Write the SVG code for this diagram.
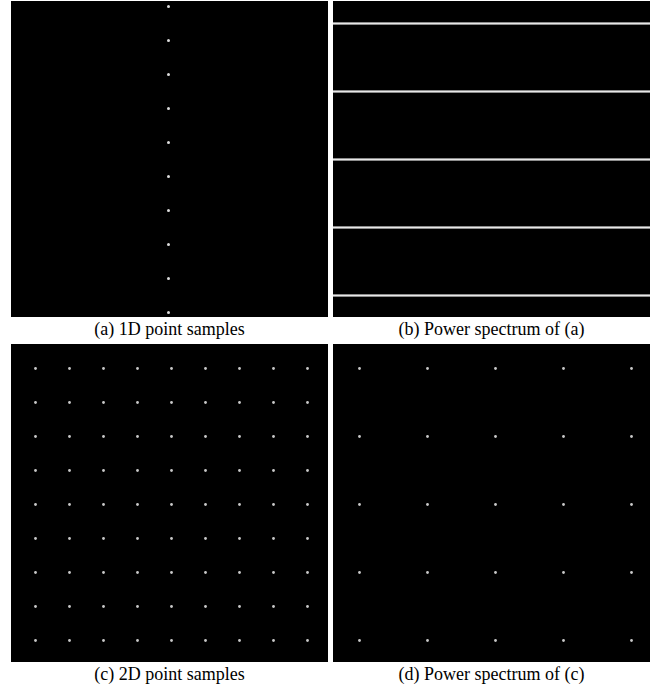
<svg xmlns="http://www.w3.org/2000/svg" width="653" height="690" viewBox="0 0 653 690">
  <defs>
    <style>
      .panel { fill: #000000; }
      .dot { fill: #dcdcdc; }
      .dotd { fill: #c8c8c8; }
      .lineo { fill: #8c8c8c; }
      .linei { fill: #e8e8e8; }
      .cap { font-family: "Liberation Serif", "Times New Roman", serif; font-size: 18px; fill: #000000; text-anchor: middle; }
    </style>
    <circle id="d" r="1.5" class="dot"/>
    <circle id="d2" r="1.4" class="dotd"/>
    <g id="hl">
      <rect x="333" y="0" width="317" height="3" class="lineo"/>
      <rect x="333" y="1" width="317" height="1" class="linei"/>
    </g>
    <g id="c-row">
      <use href="#d2" x="35.5" y="0"/>
      <use href="#d2" x="69.5" y="0"/>
      <use href="#d2" x="103.5" y="0"/>
      <use href="#d2" x="137.5" y="0"/>
      <use href="#d2" x="171.5" y="0"/>
      <use href="#d2" x="205.5" y="0"/>
      <use href="#d2" x="239.5" y="0"/>
      <use href="#d2" x="273.5" y="0"/>
      <use href="#d2" x="307.5" y="0"/>
    </g>
    <g id="d-row">
      <use href="#d2" x="359.5" y="0"/>
      <use href="#d2" x="427.5" y="0"/>
      <use href="#d2" x="495.5" y="0"/>
      <use href="#d2" x="563.5" y="0"/>
      <use href="#d2" x="631.5" y="0"/>
    </g>
  </defs>
  <rect x="0" y="0" width="653" height="690" fill="#ffffff"/>

  <g id="panel-a">
    <rect class="panel" x="11" y="1" width="317" height="316"/>
    <use href="#d" x="168.5" y="6.5"/>
    <use href="#d" x="168.5" y="40.5"/>
    <use href="#d" x="168.5" y="74.5"/>
    <use href="#d" x="168.5" y="108.5"/>
    <use href="#d" x="168.5" y="142.5"/>
    <use href="#d" x="168.5" y="176.5"/>
    <use href="#d" x="168.5" y="210.5"/>
    <use href="#d" x="168.5" y="244.5"/>
    <use href="#d" x="168.5" y="278.5"/>
    <use href="#d" x="168.5" y="312.5"/>
    <text class="cap" x="169.5" y="335">(a) 1D point samples</text>
  </g>

  <g id="panel-b">
    <rect class="panel" x="333" y="1" width="317" height="316"/>
    <use href="#hl" y="22"/>
    <use href="#hl" y="90"/>
    <use href="#hl" y="158"/>
    <use href="#hl" y="226"/>
    <use href="#hl" y="294"/>
    <text class="cap" x="491.5" y="335">(b) Power spectrum of (a)</text>
  </g>

  <g id="panel-c">
    <rect class="panel" x="11" y="344" width="317" height="318"/>
    <use href="#c-row" y="368.5"/>
    <use href="#c-row" y="402.5"/>
    <use href="#c-row" y="436.5"/>
    <use href="#c-row" y="470.5"/>
    <use href="#c-row" y="504.5"/>
    <use href="#c-row" y="538.5"/>
    <use href="#c-row" y="572.5"/>
    <use href="#c-row" y="606.5"/>
    <use href="#c-row" y="640.5"/>
    <text class="cap" x="169.5" y="680">(c) 2D point samples</text>
  </g>

  <g id="panel-d">
    <rect class="panel" x="333" y="344" width="317" height="318"/>
    <use href="#d-row" y="368.5"/>
    <use href="#d-row" y="436.5"/>
    <use href="#d-row" y="504.5"/>
    <use href="#d-row" y="572.5"/>
    <use href="#d-row" y="640.5"/>
    <text class="cap" x="491.5" y="680">(d) Power spectrum of (c)</text>
  </g>
</svg>
